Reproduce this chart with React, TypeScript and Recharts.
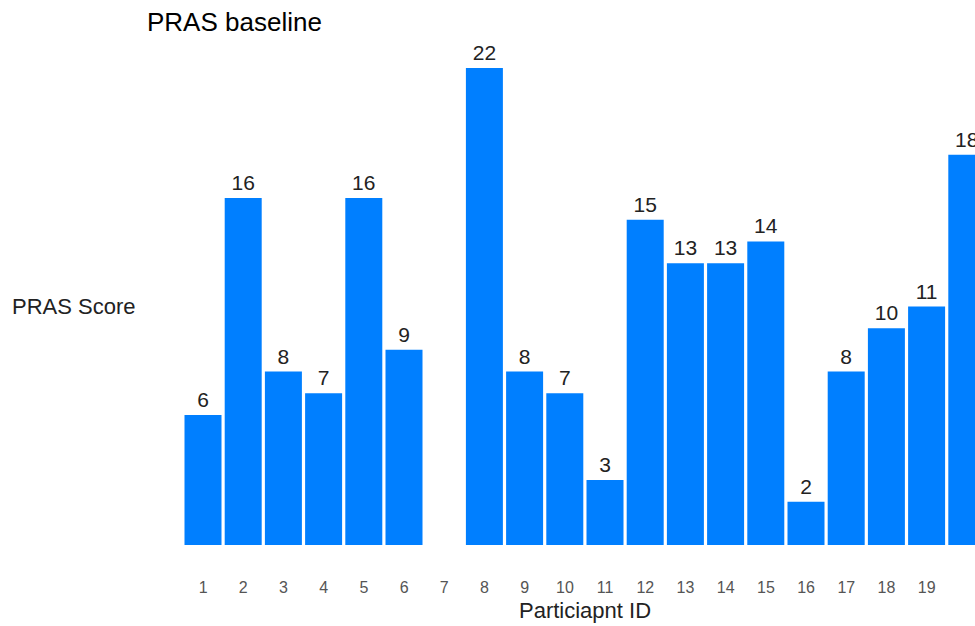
import React from 'react';
import { BarChart, Bar, XAxis, YAxis, LabelList } from 'recharts';

// Participant IDs along the x axis
const participants: string[] = [
  '1', '2', '3', '4', '5', '6', '7', '8', '9', '10',
  '11', '12', '13', '14', '15', '16', '17', '18', '19', '20',
];

// Baseline PRAS score per participant (participant 7 has no score)
const prasScores: (number | null)[] = [
  6, 16, 8, 7, 16, 9, null, 22, 8, 7,
  3, 15, 13, 13, 14, 2, 8, 10, 11, 18,
];

// Tick labels printed under the bars
const tickLabels: string[] = [
  '1', '2', '3', '4', '5', '6', '7', '8', '9', '10',
  '11', '12', '13', '14', '15', '16', '17', '18', '19',
];

const data = participants.map((id, i) => ({ id, score: prasScores[i] }));

const FONT = '"Liberation Sans", Arial, Helvetica, sans-serif';

export default function App() {
  return (
    <>
      <style>{'html, body { margin: 0; padding: 0; }'}</style>
      <div
        style={{
          position: 'relative',
          width: 975,
          height: 626,
          boxSizing: 'border-box',
          padding: '8px 0 0 8px',
          overflow: 'hidden',
          fontFamily: FONT,
        }}
      >
        <div
          style={{
            position: 'absolute',
            left: 147,
            top: 8,
            fontSize: 26,
            lineHeight: 1.1,
            color: '#000',
            whiteSpace: 'nowrap',
          }}
        >
          PRAS baseline
        </div>
        <BarChart
          width={979}
          height={618}
          data={data}
          margin={{ top: 60, right: 0, bottom: 0, left: 0 }}
          barCategoryGap={1.5}
          style={{ fontFamily: FONT }}
        >
          <XAxis
            dataKey="id"
            ticks={tickLabels}
            interval={0}
            axisLine={false}
            tickLine={false}
            tickSize={0}
            tickMargin={37}
            height={81}
            tick={{ fill: '#555555', fontSize: 16, fontFamily: FONT }}
            label={{
              value: 'Particiapnt ID',
              position: 'insideBottom',
              offset: 8,
              fill: '#222222',
              fontSize: 22,
              fontFamily: FONT,
            }}
          />
          <YAxis
            width={175}
            domain={[0, 22]}
            tick={false}
            axisLine={false}
            tickLine={false}
            label={{
              value: 'PRAS Score',
              position: 'insideLeft',
              offset: 4,
              fill: '#222222',
              fontSize: 22,
              fontFamily: FONT,
            }}
          />
          <Bar dataKey="score" fill="#007fff" isAnimationActive={false}>
            <LabelList
              dataKey="score"
              position="top"
              offset={8}
              fill="#222222"
              fontSize={21}
              fontFamily={FONT}
            />
          </Bar>
        </BarChart>
      </div>
    </>
  );
}
